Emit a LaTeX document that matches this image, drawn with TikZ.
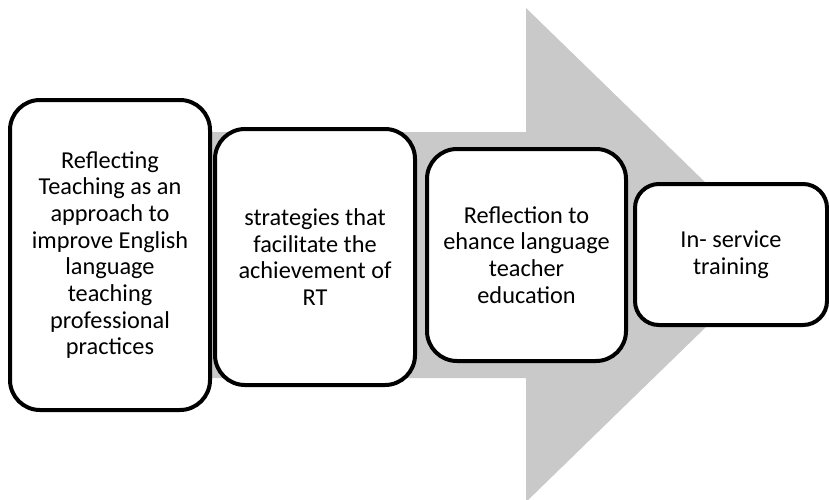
\documentclass[tikz,border=0pt]{standalone}
\usepackage{fontspec}
\setmainfont{Carlito}
\begin{document}
\begin{tikzpicture}[x=1pt,y=-1pt,
  stage/.style={draw=black, line width=4pt, fill=white, rounded corners=30pt,
    align=center, inner sep=0pt, font=\fontsize{24.3}{26.7}\selectfont},
  flow/.style={fill=black!21, draw=none}]
\useasboundingbox (0,0) rectangle (829,499);
\fill[flow] (40,132) -- (526,132) -- (526,8) -- (780,255) -- (526,502) -- (526,378) -- (40,378) -- cycle;
\node[stage, minimum width=200pt, minimum height=310pt] (s1) at (110,255)
  {Reflecting\\Teaching as an\\approach to\\improve English\\language\\teaching\\professional\\practices};
\node[stage, minimum width=200pt, minimum height=256pt] (s2) at (315,257)
  {strategies that\\facilitate the\\achievement of\\RT};
\node[stage, minimum width=199pt, minimum height=212pt] (s3) at (526.5,255)
  {Reflection to\\ehance language\\teacher\\education};
\node[stage, rounded corners=24pt, minimum width=192pt, minimum height=141pt] (s4) at (731,254.5)
  {In- service\\training};
\end{tikzpicture}
\end{document}
